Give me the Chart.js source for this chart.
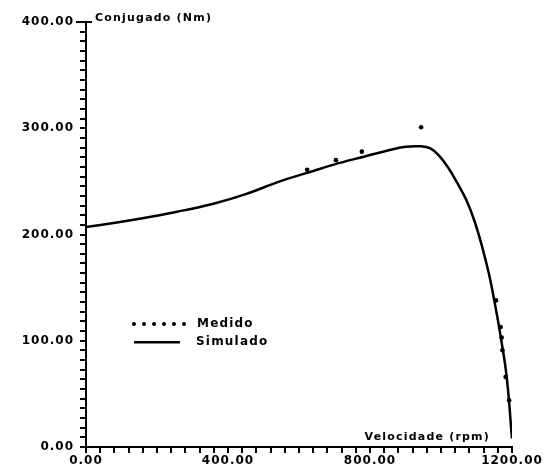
<!DOCTYPE html>
<html>
<head>
<meta charset="utf-8">
<script src="https://cdn.jsdelivr.net/npm/chart.js@4/dist/chart.umd.min.js"></script>
<style>
  html, body { margin: 0; padding: 0; background: #fff; }
  #wrap { width: 547px; height: 473px; position: relative; }
</style>
</head>
<body>
<div id="wrap"><canvas id="c" width="547" height="473"></canvas></div>
<script>
// ---- Data ----
const simVelocity = [0, 100, 171, 250, 359, 450, 546, 623, 700, 780, 850, 900, 941, 970, 995, 1020, 1045, 1072, 1095, 1117, 1135, 1150, 1166, 1185, 1200];
const simTorque   = [207, 212, 216, 221, 229, 238, 250, 258, 266, 273, 279, 282.5, 283, 281, 274, 263, 249, 232, 212, 187, 163, 138, 108, 66, 8];

const measVelocity = [623, 704, 777, 944, 1155, 1168, 1171, 1173, 1182, 1192];
const measTorque   = [261, 270, 278, 301, 138, 113, 103, 91, 66, 44];

const xTickLabels = ['0.00', '400.00', '800.00', '1200.00'];
const yTickLabels = ['0.00', '100.00', '200.00', '300.00', '400.00'];
const xMajorValues = [0, 400, 800, 1200];
const yMajorValues = [0, 100, 200, 300, 400];

const seriesNames = ['Medido', 'Simulado'];
const yAxisTitle = 'Conjugado (Nm)';
const xAxisTitle = 'Velocidade (rpm)';

// ---- Build datasets ----
const simData = simVelocity.map((v, i) => ({ x: v, y: simTorque[i] }));
const measData = measVelocity.map((v, i) => ({ x: v, y: measTorque[i] }));

function labelFor(value, majors, labels) {
  for (let i = 0; i < majors.length; i++) {
    if (Math.abs(value - majors[i]) < 1e-6) return labels[i];
  }
  return '';
}

const tickFont = { family: 'DejaVu Sans', size: 12, weight: 'bold' };
const TICK_LEN = 6;

const decorations = {
  id: 'decorations',
  beforeDraw(chart) {
    try { chart.ctx.letterSpacing = '1px'; } catch (e) {}
  },
  afterDraw(chart) {
    const ctx = chart.ctx;
    const a = chart.chartArea;
    const xs = chart.scales.x, ys = chart.scales.y;
    ctx.save();
    try { ctx.letterSpacing = '0px'; } catch (e) {}
    ctx.setLineDash([]);
    ctx.globalAlpha = 1;
    // axis tick marks (minor)
    ctx.fillStyle = '#000';
    for (let i = 0; i <= 30; i++) {
      const px = Math.round(xs.getPixelForValue(i * 40));
      ctx.fillRect(px - 1, a.bottom, 2, TICK_LEN);
    }
    for (let i = 0; i <= 44; i++) {
      const py = Math.round(ys.getPixelForValue(i * 100 / 11));
      ctx.fillRect(a.left - TICK_LEN, py - 1, TICK_LEN, 2);
    }
    // top major tick crossing at 400
    const pTop = Math.round(ys.getPixelForValue(400));
    ctx.fillRect(a.left - 10, pTop - 1, 16, 2);

    try { ctx.letterSpacing = '1.2px'; } catch (e) {}
    ctx.font = 'bold 11px "DejaVu Sans"';
    ctx.textBaseline = 'middle';
    ctx.textAlign = 'left';
    ctx.fillText(yAxisTitle, a.left + 9, a.top - 4);
    ctx.textAlign = 'right';
    ctx.fillText(xAxisTitle, a.right - 22, a.bottom - 10);

    // legend
    ctx.font = 'bold 12px "DejaVu Sans"';
    ctx.textAlign = 'left';
    const lx = a.left + 48, ly1 = a.top + 302, ly2 = a.top + 320;
    for (let i = 0; i < 6; i++) {
      ctx.beginPath();
      ctx.arc(lx + i * 10, ly1, 2, 0, Math.PI * 2);
      ctx.fill();
    }
    ctx.fillRect(lx, ly2 - 1, 46, 2.5);
    ctx.fillText(seriesNames[0], a.left + 111, ly1);
    ctx.fillText(seriesNames[1], a.left + 110, ly2);
    ctx.restore();
    try { ctx.letterSpacing = '0px'; } catch (e) {}
  }
};

new Chart(document.getElementById('c'), {
  type: 'scatter',
  data: {
    datasets: [
      {
        label: seriesNames[1],
        data: simData,
        showLine: true,
        borderColor: '#000',
        borderWidth: 2.5,
        pointRadius: 0,
        tension: 0.4,
        fill: false
      },
      {
        label: seriesNames[0],
        data: measData,
        showLine: false,
        backgroundColor: '#000',
        borderColor: '#000',
        pointRadius: 2.3,
        pointBorderWidth: 0
      }
    ]
  },
  options: {
    responsive: false,
    animation: false,
    devicePixelRatio: 1,
    layout: { padding: { top: 22, right: 35, left: 0, bottom: 0 } },
    plugins: {
      legend: { display: false },
      tooltip: { enabled: false },
      title: { display: false }
    },
    scales: {
      x: {
        type: 'linear',
        min: 0,
        max: 1200,
        afterBuildTicks(scale) {
          const t = [];
          for (let i = 0; i <= 30; i++) t.push({ value: i * 40 });
          scale.ticks = t;
        },
        afterFit(scale) {
          scale.height = 26;
          scale.paddingLeft = 0;
          scale.paddingRight = 0;
        },
        ticks: {
          autoSkip: false,
          maxRotation: 0,
          color: '#000',
          font: tickFont,
          padding: 1,
          callback: (v) => labelFor(v, xMajorValues, xTickLabels)
        },
        grid: {
          display: true,
          drawOnChartArea: false,
          drawTicks: true,
          tickLength: TICK_LEN,
          color: '#000',
          tickColor: '#000',
          tickWidth: 2,
          lineWidth: 2
        },
        border: { display: true, color: '#000', width: 2 }
      },
      y: {
        type: 'linear',
        min: 0,
        max: 400,
        afterBuildTicks(scale) {
          const t = [];
          for (let i = 0; i <= 44; i++) t.push({ value: i * 100 / 11 });
          scale.ticks = t;
        },
        afterFit(scale) {
          scale.width = 86;
          scale.paddingTop = 0;
          scale.paddingBottom = 0;
        },
        ticks: {
          autoSkip: false,
          color: '#000',
          font: tickFont,
          padding: 6,
          callback: (v) => labelFor(v, yMajorValues, yTickLabels)
        },
        grid: {
          display: true,
          drawOnChartArea: false,
          drawTicks: true,
          tickLength: TICK_LEN,
          color: '#000',
          tickColor: '#000',
          tickWidth: 2,
          lineWidth: 2
        },
        border: { display: true, color: '#000', width: 2 }
      }
    }
  },
  plugins: [decorations]
});
</script>
</body>
</html>
